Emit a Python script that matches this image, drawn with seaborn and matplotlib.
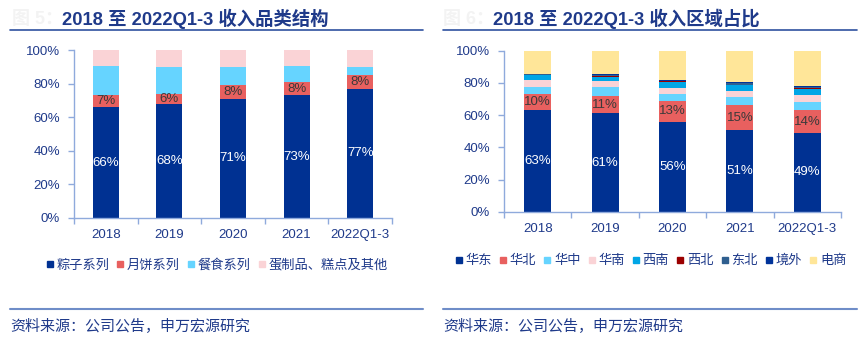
import matplotlib
matplotlib.use("Agg")
import matplotlib.pyplot as plt
import seaborn as sns
import pandas as pd
import numpy as np
from matplotlib.lines import Line2D

years = ["2018", "2019", "2020", "2021", "2022Q1-3"]

# 收入品类结构 (%)
zongzi = [66, 68, 71, 73, 77]
yuebing = [7, 6, 8, 8, 8]
canshi = [17.5, 16, 11, 9.5, 5]
qita = [9.5, 10, 10, 9.5, 10]
cat_names = ["粽子系列", "月饼系列", "餐食系列", "蛋制品、糕点及其他"]
cat_colors = ["#003192", "#E8605F", "#66D4FF", "#FAD3D6"]

# 收入区域占比 (%)
huadong = [63, 61, 56, 51, 49]
huabei = [10, 11, 13, 15, 14]
huazhong = [4.7, 5.2, 4.3, 5.0, 5.2]
huanan = [4.0, 3.7, 3.5, 4.1, 4.5]
xinan = [2.9, 2.9, 3.5, 3.3, 3.3]
xibei = [0.3, 0.4, 0.6, 0.5, 0.6]
dongbei = [0.5, 0.7, 0.5, 0.8, 0.8]
jingwai = [0.4, 0.6, 0.5, 0.6, 0.7]
dianshang = [14.2, 14.5, 18.1, 19.7, 21.9]
reg_names = ["华东", "华北", "华中", "华南", "西南", "西北", "东北", "境外", "电商"]
reg_colors = ["#003192", "#E8605F", "#66D4FF", "#FAD3D6", "#00A6E6",
              "#9B0000", "#2F5F8F", "#00339A", "#FFE699"]

sns.set_theme(style="white")
plt.rcParams["font.family"] = ["Liberation Sans", "Noto Sans CJK SC", "DejaVu Sans"]

W, H = 866, 347
fig = plt.figure(figsize=(W / 100, H / 100), dpi=100)
fig.patch.set_facecolor("white")

TXT = "#1F3A8A"
AXC = "#8FAADC"


def px_axes(x0, y_top, x1, y_bot):
    return fig.add_axes([x0 / W, 1 - y_bot / H, (x1 - x0) / W, (y_bot - y_top) / H])


def stacked(ax, series, colors, width):
    bottom = np.zeros(len(years))
    for vals, col in zip(series, colors):
        df = pd.DataFrame({"year": years, "share": vals})
        sns.barplot(data=df, x="year", y="share", color=col, width=width,
                    bottom=bottom, ax=ax, saturation=1, errorbar=None,
                    linewidth=0, order=years)
        bottom = bottom + np.array(vals, dtype=float)
    # value labels for the first two segments
    for i in range(len(years)):
        v0 = series[0][i]
        v1 = series[1][i]
        ax.text(i, v0 / 2, f"{v0:g}%", ha="center", va="center",
                color="white", fontsize=9.5)
        ax.text(i, v0 + v1 / 2, f"{v1:g}%", ha="center", va="center",
                color="#3A3A3A", fontsize=9.5)


def style_axes(ax):
    ax.set_xlim(-0.5, len(years) - 0.5)
    ax.set_ylim(0, 100)
    ax.set_xlabel("")
    ax.set_ylabel("")
    ax.set_yticks(np.arange(0, 101, 20))
    ax.set_yticklabels([f"{t}%" for t in range(0, 101, 20)])
    ax.set_xticks(range(len(years)))
    ax.set_xticklabels(years)
    ax.set_xticks(np.arange(-0.5, len(years), 1), minor=True)
    for s in ["top", "right"]:
        ax.spines[s].set_visible(False)
    for s in ["left", "bottom"]:
        ax.spines[s].set_color(AXC)
        ax.spines[s].set_linewidth(1.0)
    ax.tick_params(axis="y", which="major", direction="out", length=4,
                   width=1, color=AXC, labelcolor=TXT, labelsize=9.5, pad=6,
                   left=True)
    ax.tick_params(axis="x", which="major", length=0, labelcolor=TXT,
                   labelsize=9.5, pad=8)
    ax.tick_params(axis="x", which="minor", direction="out", length=4,
                   width=1, color=AXC, bottom=True)
    ax.set_facecolor("white")


# left panel
ax1 = px_axes(74, 50, 392, 218)
stacked(ax1, [zongzi, yuebing, canshi, qita], cat_colors, 0.41)
style_axes(ax1)

# right panel
ax2 = px_axes(504, 50.7, 841, 211.7)
stacked(ax2, [huadong, huabei, huazhong, huanan, xinan, xibei, dongbei,
              jingwai, dianshang], reg_colors, 0.4)
style_axes(ax2)

# titles and rules
fig.text(12 / W, 1 - 19 / H, "图 5：", color="#F3F3F3", fontsize=13,
         fontweight="bold", ha="left", va="center")
fig.text(62 / W, 1 - 19 / H, "2018 至 2022Q1-3 收入品类结构", color=TXT,
         fontsize=13.2, fontweight="bold", ha="left", va="center")
fig.text(443 / W, 1 - 19 / H, "图 6：", color="#F3F3F3", fontsize=13,
         fontweight="bold", ha="left", va="center")
fig.text(493 / W, 1 - 19 / H, "2018 至 2022Q1-3 收入区域占比", color=TXT,
         fontsize=13.2, fontweight="bold", ha="left", va="center")

for x0, x1 in [(10, 423), (443, 857)]:
    fig.add_artist(Line2D([x0 / W, x1 / W], [1 - 30 / H] * 2,
                          color="#2F52A0", lw=1.2))
    fig.add_artist(Line2D([x0 / W, x1 / W], [1 - 309 / H] * 2,
                          color="#6F8DC8", lw=1.5))

fig.text(10 / W, 1 - 327 / H, "资料来源：公司公告，申万宏源研究", color=TXT,
         fontsize=10.8, ha="left", va="center")
fig.text(443 / W, 1 - 327 / H, "资料来源：公司公告，申万宏源研究", color=TXT,
         fontsize=10.8, ha="left", va="center")


# legends
def legend(names, colors, cx, cy):
    handles = [Line2D([], [], marker="s", linestyle="none", markersize=4.5,
                      markerfacecolor=c, markeredgecolor=c) for c in colors]
    lg = fig.legend(handles, names, loc="center", bbox_to_anchor=(cx / W, 1 - cy / H),
                    ncol=len(names), frameon=False, fontsize=9.5,
                    handlelength=0.5, handletextpad=0.25, columnspacing=0.6,
                    borderpad=0, borderaxespad=0)
    for t in lg.get_texts():
        t.set_color(TXT)


legend(cat_names, cat_colors, 217, 265)
legend(reg_names, reg_colors, 651, 261)

fig.savefig("out.png", dpi=100, facecolor="white")
